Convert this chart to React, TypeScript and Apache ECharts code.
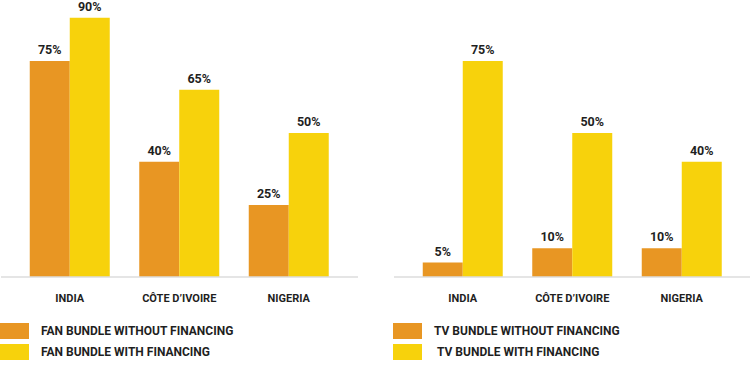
import React, { useEffect, useRef } from "react";
import * as echarts from "echarts";

const countries = ["INDIA", "CÔTE D’IVOIRE", "NIGERIA"];
const fanWithout = [75, 40, 25];
const fanWith = [90, 65, 50];
const tvWithout = [5, 10, 10];
const tvWith = [75, 50, 40];
const seriesNames = [
  "FAN BUNDLE WITHOUT FINANCING",
  "FAN BUNDLE WITH FINANCING",
  "TV BUNDLE WITHOUT FINANCING",
  "TV BUNDLE WITH FINANCING",
];

const ORANGE = "#E89623";
const YELLOW = "#F7D20C";
const TEXT = "#1f1f1f";
const FONT = "Roboto, 'Noto Sans', sans-serif";

export default function App() {
  const ref = useRef<HTMLDivElement>(null);
  useEffect(() => {
    if (!ref.current) return;
    const chart = echarts.init(ref.current, undefined, { renderer: "svg" });
    const label = {
      show: true,
      position: "top",
      distance: 5,
      formatter: "{c}%",
      color: TEXT,
      fontFamily: FONT,
      fontWeight: "bold",
      fontSize: 12.5,
    };
    const mkSeries = (name: string, data: number[], idx: number, color: string) => ({
      type: "bar",
      name,
      data,
      xAxisIndex: idx,
      yAxisIndex: idx,
      barWidth: 40,
      barGap: "0%",
      itemStyle: { color },
      label,
    });
    const xAxisCommon = {
      type: "category",
      data: countries,
      axisLine: { show: false },
      axisTick: { show: false },
      axisLabel: {
        color: TEXT,
        fontFamily: FONT,
        fontWeight: "bold",
        fontSize: 11,
        margin: 16,
      },
    };
    const yAxisCommon = {
      type: "value",
      min: 0,
      max: 90,
      show: false,
      splitLine: { show: false },
    };
    const legendCommon = {
      orient: "vertical",
      padding: 0,
      itemWidth: 29,
      itemHeight: 16,
      itemGap: 5,
      icon: "rect",
      selectedMode: false,
      textStyle: {
        color: TEXT,
        fontFamily: FONT,
        fontWeight: "bold",
        fontSize: 12,
        padding: [0, 0, 0, 7],
      },
    };
    chart.setOption({
      animation: false,
      backgroundColor: "#ffffff",
      grid: [
        { left: 15, width: 328.5, top: 17.8, bottom: 96 },
        { left: 408, width: 328.5, top: 17.8, bottom: 96 },
      ],
      xAxis: [
        { ...xAxisCommon, gridIndex: 0 },
        { ...xAxisCommon, gridIndex: 1 },
      ],
      yAxis: [
        { ...yAxisCommon, gridIndex: 0 },
        { ...yAxisCommon, gridIndex: 1 },
      ],
      legend: [
        { ...legendCommon, left: 0, top: 323, data: [seriesNames[0], seriesNames[1]] },
        {
          ...legendCommon,
          left: 393,
          top: 323,
          data: [
            seriesNames[2],
            { name: seriesNames[3], textStyle: { padding: [0, 0, 0, 10] } },
          ],
        },
      ],
      graphic: [
        {
          type: "line",
          shape: { x1: 1, y1: 277, x2: 358, y2: 277 },
          style: { stroke: "#dcdcdc", lineWidth: 1.5 },
          z: 10,
        },
        {
          type: "line",
          shape: { x1: 394, y1: 277, x2: 750, y2: 277 },
          style: { stroke: "#dcdcdc", lineWidth: 1.5 },
          z: 10,
        },
      ],
      series: [
        mkSeries(seriesNames[0], fanWithout, 0, ORANGE),
        mkSeries(seriesNames[1], fanWith, 0, YELLOW),
        mkSeries(seriesNames[2], tvWithout, 1, ORANGE),
        mkSeries(seriesNames[3], tvWith, 1, YELLOW),
      ],
    });
    return () => chart.dispose();
  }, []);
  return (
    <div
      ref={ref}
      style={{ position: "fixed", left: 0, top: 0, width: 750, height: 373 }}
    />
  );
}
